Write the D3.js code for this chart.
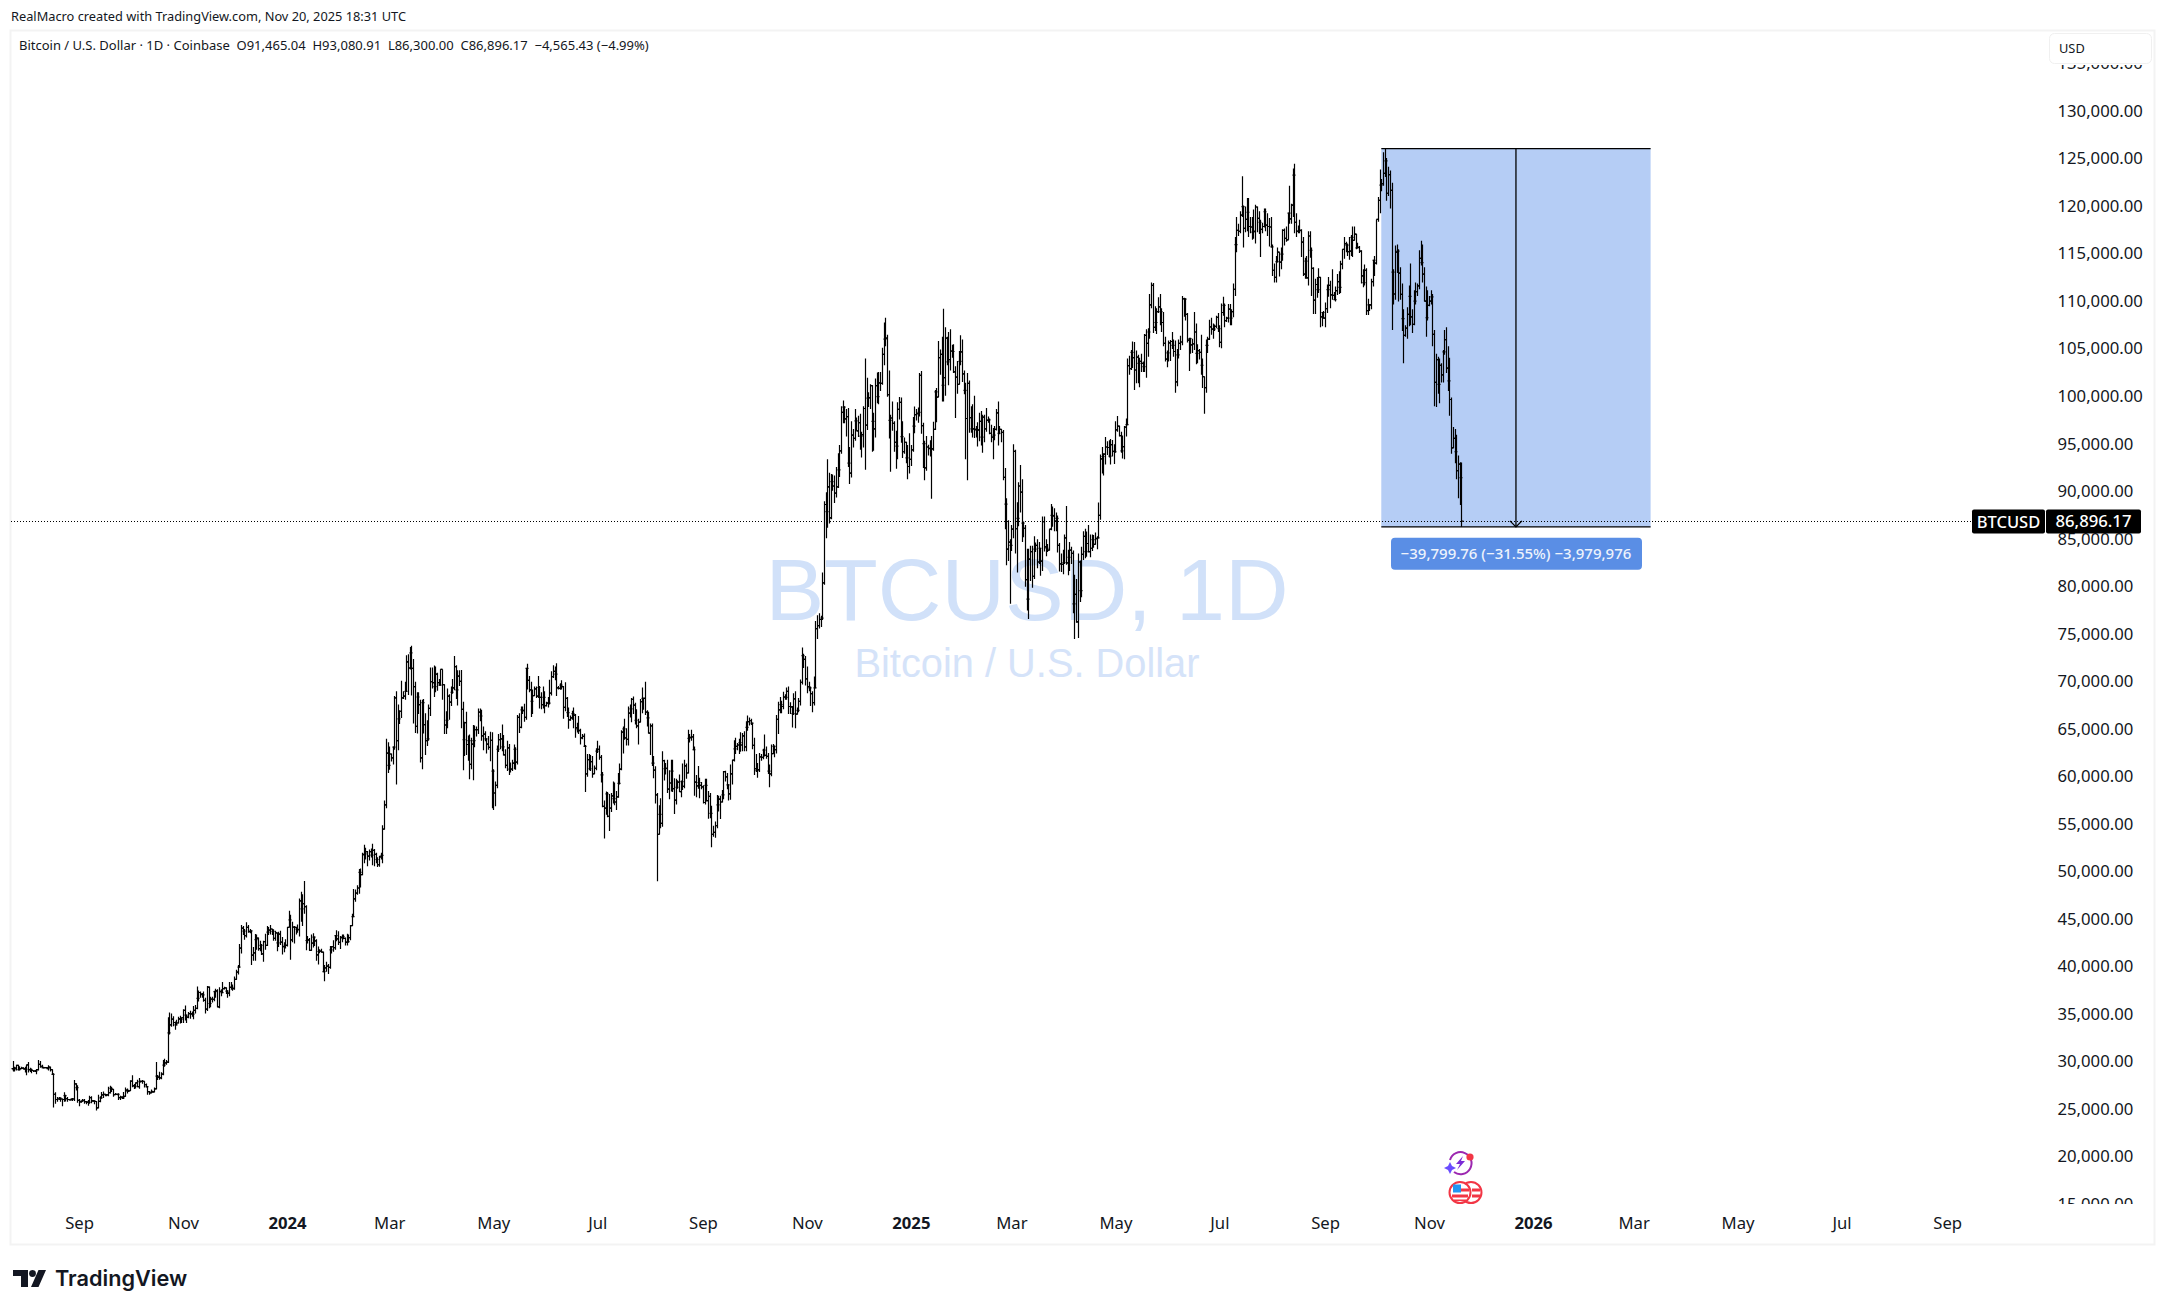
<!DOCTYPE html>
<html>
<head>
<meta charset="utf-8">
<title>BTCUSD</title>
<script src="https://cdn.jsdelivr.net/npm/d3@7"></script>
<style>
body {margin:0; background:#fff;}
text {font-family:"Noto Sans",sans-serif; fill:#131722;}
</style>
</head>
<body>
<svg id="chart" width="2166" height="1311"></svg>
<script>
// daily bars, in thousands of USD: [high, low, close]
// open of a bar is the close of the bar before it
var jul23 = [[30.1,29.0,29.2],[29.5,29.0,29.35],[29.7,29.1,29.65],[29.7,29.1,29.2],[29.55,29.1,29.3],[29.5,29.25,29.35],[29.45,29.2,29.27],[29.5,28.9,29.23]]
var aug23 = [[29.7,28.6,29.7],[30.0,28.9,29.2],[29.4,28.95,29.2],[29.3,28.8,29.1],[29.1,28.95,29.05],[29.15,28.95,29.05],[29.25,28.7,29.2],[30.2,29.1,29.75],[30.1,29.4,29.55],[29.7,29.35,29.4],[29.5,29.3,29.4],[29.45,29.35,29.4],[29.45,29.25,29.3],[29.65,29.1,29.45],[29.5,29.0,29.2],[29.2,28.7,28.7],[28.8,25.2,26.6],[26.8,25.6,26.05],[26.3,25.8,26.1],[26.3,26.0,26.2],[26.25,25.8,26.1],[26.15,25.35,26.05],[26.8,25.8,26.45],[26.55,25.85,26.15],[26.3,25.8,26.05],[26.1,25.95,26.0],[26.15,25.98,26.1],[26.2,25.9,26.1],[28.1,25.9,27.7],[27.75,27.0,27.3],[27.55,25.7,25.95]]
var sep23 = [[26.1,25.35,25.8],[25.95,25.7,25.87],[26.1,25.8,25.97],[26.1,25.6,25.82],[25.9,25.55,25.78],[26.0,25.4,25.75],[26.45,25.6,26.24],[26.4,25.65,25.9],[25.95,25.8,25.9],[25.95,25.55,25.84],[25.9,24.9,25.16],[26.55,25.13,25.85],[26.4,25.75,26.22],[26.85,26.13,26.53],[26.9,26.2,26.6],[26.65,26.4,26.57],[26.62,26.4,26.53],[27.4,26.38,26.76],[27.5,26.68,27.21],[27.4,26.85,27.13],[27.15,26.35,26.57],[26.74,26.52,26.58],[26.63,26.5,26.58],[26.72,26.0,26.25],[26.45,25.99,26.3],[26.4,26.1,26.22],[26.83,26.1,26.37],[27.3,26.33,27.03],[27.22,26.67,26.91],[27.08,26.88,26.97]]
var oct23 = [[28.07,26.95,27.98],[28.6,27.33,27.5],[27.68,27.15,27.43],[27.85,27.2,27.79],[28.13,27.35,27.41],[28.3,27.18,27.93],[28.05,27.85,27.96],[28.1,27.7,27.97],[27.98,27.3,27.6],[27.73,27.3,27.39],[27.48,26.55,26.87],[26.95,26.55,26.75],[27.1,26.7,26.86],[26.97,26.82,26.86],[27.3,26.82,27.16],[30.0,27.12,28.5],[28.62,28.1,28.4],[28.98,28.12,28.32],[28.92,28.17,28.71],[30.2,28.6,29.67],[30.35,29.5,29.9],[30.2,29.7,29.98],[34.7,29.9,33.07],[35.2,32.9,33.9],[35.1,33.7,34.5],[34.8,33.75,34.15],[34.25,33.4,33.9],[34.45,33.87,34.1],[34.75,34.05,34.53],[34.85,34.05,34.48],[34.7,34.1,34.65]]
var nov23 = [[35.55,34.1,35.42],[35.95,34.35,34.93],[34.95,34.1,34.72],[35.25,34.6,35.08],[35.38,34.55,35.05],[35.3,34.75,35.04],[35.9,34.5,35.43],[35.98,35.1,35.65],[37.95,35.55,36.69],[37.52,36.35,37.31],[37.4,36.75,37.13],[37.25,36.75,37.06],[37.4,36.33,36.49],[36.75,35.1,35.55],[37.98,35.37,37.88],[37.95,35.65,36.15],[36.85,35.75,36.6],[36.85,36.25,36.58],[37.5,36.4,37.39],[37.7,36.75,37.47],[37.65,35.75,35.8],[37.85,35.65,37.43],[37.65,36.9,37.3],[38.4,37.25,37.72],[37.9,37.62,37.8],[37.83,37.15,37.45],[37.55,36.75,37.25],[38.4,36.9,37.84],[38.42,37.6,37.85],[38.15,37.5,37.72]]
var dec23 = [[38.98,37.6,38.69],[39.7,38.65,39.46],[40.2,39.2,39.97],[42.4,39.97,41.98],[44.4,41.4,44.08],[44.3,43.35,43.77],[44.0,42.85,43.29],[44.7,43.1,44.17],[44.4,43.6,43.72],[44.0,43.55,43.79],[43.8,40.2,41.25],[42.1,40.65,41.48],[43.45,40.65,42.88],[43.4,41.8,43.02],[43.1,41.7,41.93],[42.75,41.65,42.27],[42.4,41.25,41.37],[42.75,40.55,42.65],[43.5,41.8,42.27],[44.3,42.2,43.66],[44.2,43.35,43.86],[44.4,43.4,43.99],[44.0,43.35,43.73],[43.95,42.75,43.0],[43.8,42.75,43.58],[43.6,41.65,42.52],[43.7,42.1,43.45],[43.8,42.3,42.6],[43.15,41.3,42.14],[42.6,41.55,42.28],[42.9,41.95,42.27]]
var jan24 = [[44.2,42.15,44.17],[45.9,44.2,44.95],[45.5,40.75,42.85],[44.75,42.6,44.18],[44.3,42.45,44.16],[44.2,43.4,43.97],[44.45,43.6,43.93],[47.2,43.2,46.95],[47.9,44.75,46.11],[47.65,44.3,46.65],[49.05,45.6,46.34],[46.5,41.75,42.78],[43.25,42.45,42.85],[43.05,41.7,41.73],[43.4,41.7,42.5],[43.55,42.05,43.14],[43.2,42.2,42.74],[42.9,40.65,41.26],[42.15,40.25,41.62],[41.85,41.45,41.66],[41.9,41.5,41.55],[41.6,39.45,39.5],[40.2,38.5,39.9],[40.55,39.5,40.08],[40.3,39.25,39.95],[42.2,39.8,41.8],[42.2,41.4,42.12],[42.8,41.6,42.03],[43.3,41.8,43.3],[43.85,42.7,42.95],[43.75,42.3,42.58]]
var feb24 = [[43.25,41.88,43.08],[43.4,42.6,43.2],[43.4,42.9,43.0],[43.1,42.25,42.58],[43.5,42.25,42.66],[43.4,42.55,43.08],[44.4,42.8,44.34],[45.6,44.3,45.3],[48.2,45.25,47.15],[48.15,46.85,47.77],[48.6,47.6,48.3],[50.3,47.7,49.95],[50.35,48.35,49.7],[52.0,49.65,51.82],[52.85,50.9,51.9],[52.55,51.3,52.13],[52.2,50.6,51.65],[52.35,51.2,52.12],[52.45,51.5,51.77],[52.95,50.7,52.27],[52.4,50.6,51.85],[52.0,50.9,51.3],[51.55,50.5,50.75],[51.7,50.55,51.57],[52.0,51.3,51.73],[54.9,50.9,54.5],[57.5,54.45,57.05],[64.0,56.7,62.5],[63.65,60.4,61.2]]
var mar24 = [[63.2,60.75,62.4],[62.45,61.6,62.0],[63.2,61.3,63.13],[68.5,62.85,68.3],[69.0,59.2,63.8],[67.6,62.8,66.1],[67.0,65.55,66.9],[70.1,66.2,68.3],[69.0,68.2,68.5],[70.0,68.1,69.0],[72.8,69.0,72.1],[72.9,68.6,71.45],[73.65,71.3,73.05],[73.8,68.55,71.4],[72.4,65.6,69.5],[70.0,64.6,65.3],[68.9,64.55,68.4],[68.9,66.6,67.6],[68.1,61.5,62.0],[68.1,60.8,67.8],[68.2,64.55,65.5],[66.7,62.3,63.8],[65.95,63.25,64.0],[67.6,63.8,67.2],[71.5,66.4,70.0],[71.5,69.3,69.9],[71.7,68.4,69.5],[71.6,68.9,70.8],[70.95,69.05,69.9],[70.3,69.6,69.65],[71.3,69.6,71.3]]
var apr24 = [[71.3,68.1,69.7],[69.7,64.5,65.45],[66.9,64.5,65.95],[69.3,65.1,68.5],[68.7,66.0,67.85],[69.5,67.45,68.9],[70.3,68.75,69.35],[72.7,69.1,71.6],[71.75,68.2,69.15],[71.2,67.5,70.6],[71.2,69.55,70.05],[71.25,65.1,67.1],[67.9,60.7,63.9],[65.8,62.2,65.7],[66.85,62.3,63.4],[64.35,61.7,63.8],[64.45,59.75,61.3],[64.1,60.8,63.45],[65.45,59.65,63.8],[65.4,63.1,64.95],[65.3,64.25,64.95],[67.2,64.5,66.8],[67.2,65.85,66.4],[67.05,63.8,64.3],[65.3,62.8,64.5],[64.8,63.75,64.0],[64.0,62.45,63.45],[64.3,62.85,63.1],[64.75,61.65,63.85],[64.7,56.7,60.6]]
var may24 = [[60.8,56.5,58.3],[59.5,56.9,59.1],[63.3,58.8,62.9],[64.5,62.6,63.9],[64.6,62.9,64.0],[65.5,62.7,63.15],[64.4,62.25,62.3],[62.9,60.9,61.2],[63.8,60.6,63.05],[63.45,60.2,60.8],[61.5,60.45,60.8],[61.8,60.6,61.45],[63.4,60.8,62.9],[63.1,60.75,61.55],[66.5,61.3,66.25],[66.7,64.6,65.2],[67.4,65.1,67.05],[67.4,66.6,66.95],[67.7,65.8,66.25],[71.4,66.0,71.4],[71.9,69.2,70.15],[70.6,68.9,69.15],[70.0,66.3,67.95],[69.2,66.6,68.55],[69.5,68.5,69.25],[69.5,68.3,68.5],[70.6,68.3,69.4],[69.55,67.2,68.35],[68.9,67.1,67.6],[69.5,67.2,68.35],[69.0,66.7,67.5]]
var jun24 = [[67.9,67.4,67.75],[68.4,67.3,67.75],[70.2,67.6,68.8],[71.1,68.55,70.55],[71.75,70.4,71.1],[71.6,70.15,70.8],[71.95,68.5,69.35],[69.55,69.2,69.3],[69.85,69.15,69.65],[70.15,69.2,69.5],[69.55,66.1,67.3],[69.95,66.9,68.25],[68.4,66.3,66.75],[67.3,65.05,66.0],[66.45,65.9,66.2],[66.95,66.0,66.65],[67.3,65.1,66.5],[66.6,64.1,65.15],[65.7,64.65,64.95],[66.4,64.5,64.85],[65.05,63.4,64.1],[64.5,63.95,64.25],[64.55,63.2,63.2],[63.35,58.4,60.3],[62.4,60.0,61.8],[62.4,60.7,60.85],[62.3,60.6,61.6],[62.2,59.9,60.3],[61.2,60.35,60.9],[63.0,60.7,62.7]]
var jul24 = [[63.8,62.5,62.9],[63.3,61.8,62.05],[62.3,59.4,60.2],[60.5,56.8,56.9],[57.5,53.5,56.7],[58.45,56.0,58.2],[58.4,55.75,55.85],[58.2,54.3,56.7],[58.3,56.3,58.0],[59.5,57.2,57.7],[59.4,57.0,57.35],[58.5,56.5,57.9],[60.4,57.8,59.3],[61.4,59.2,60.8],[64.9,60.7,64.7],[65.3,62.45,65.05],[66.1,63.9,64.1],[65.1,63.3,63.95],[67.4,63.3,66.7],[67.6,66.25,67.15],[68.3,65.75,68.15],[68.45,66.6,67.55],[67.8,65.5,65.95],[67.1,65.1,65.35],[66.1,63.4,65.75],[68.2,65.75,67.9],[69.4,66.7,68.25],[68.3,67.05,68.25],[70.0,66.5,66.8],[67.0,65.3,66.2],[66.85,64.55,64.6]]
var aug24 = [[65.6,62.3,65.35],[65.6,61.15,61.45],[62.2,59.85,60.7],[61.1,57.2,58.1],[58.3,49.0,53.95],[57.0,53.95,56.05],[57.75,54.6,55.1],[62.7,54.75,61.7],[61.8,59.6,60.85],[61.45,60.25,60.9],[61.8,58.3,58.7],[60.7,57.65,59.35],[61.8,58.45,60.6],[61.8,58.4,58.75],[59.85,56.1,57.55],[59.8,57.1,58.9],[59.65,58.75,59.45],[60.25,58.4,58.45],[59.6,57.85,59.5],[61.4,58.6,59.0],[61.8,58.8,61.15],[61.4,59.8,60.4],[64.95,60.35,64.05],[64.5,63.6,64.15],[64.95,63.8,64.2],[64.5,62.8,62.85],[63.2,58.0,59.45],[60.2,57.85,59.05],[61.15,58.75,59.4],[59.9,57.75,59.1],[59.45,58.7,58.95]]
var sep24 = [[59.1,57.2,57.3],[59.8,57.1,59.1],[59.8,57.4,57.5],[58.5,55.6,57.95],[58.3,55.65,56.15],[56.95,52.6,53.95],[54.85,53.7,54.15],[55.3,53.6,54.85],[58.1,54.6,57.05],[58.0,56.35,57.65],[58.0,55.55,57.35],[58.6,57.3,58.1],[60.6,57.65,60.55],[60.65,59.5,60.0],[60.4,58.7,59.15],[59.2,57.5,58.2],[61.3,57.6,60.3],[61.8,59.2,61.75],[63.85,61.6,62.95],[64.1,62.4,63.2],[63.55,62.8,63.35],[64.0,62.4,63.6],[64.7,62.65,63.35],[64.6,62.7,64.3],[64.8,62.7,63.15],[65.85,62.7,65.2],[66.45,64.85,65.8],[66.25,65.4,65.9],[66.1,65.45,65.65],[65.65,62.9,63.3]]
var oct24 = [[64.1,60.2,60.85],[62.4,60.5,60.65],[61.45,59.9,60.75],[62.5,60.5,62.1],[62.4,61.7,62.05],[62.95,61.85,62.8],[64.45,62.15,62.25],[63.2,61.9,62.15],[62.5,60.3,60.6],[61.3,58.9,60.3],[63.4,60.05,62.45],[63.45,62.4,63.2],[63.3,62.05,62.85],[66.5,62.45,66.05],[67.9,64.5,67.05],[68.4,66.7,67.6],[68.0,66.7,67.4],[68.95,67.1,68.4],[68.7,68.1,68.35],[69.4,68.1,69.0],[69.5,66.6,67.4],[67.85,66.6,67.35],[67.45,65.2,66.65],[68.8,66.5,68.2],[69.0,65.1,66.6],[67.3,66.55,67.0],[68.3,66.8,67.95],[70.25,67.5,69.95],[73.6,69.7,72.75],[72.95,71.45,72.35],[72.7,69.6,70.3]]
var nov24 = [[71.6,68.8,69.5],[70.0,69.0,69.35],[69.5,67.45,68.75],[69.0,66.8,67.8],[70.55,67.5,69.35],[76.4,69.35,75.6],[77.0,74.5,75.9],[77.2,75.6,76.55],[76.95,75.75,76.7],[81.5,76.5,80.4],[89.0,80.2,88.65],[89.95,85.1,87.9],[93.4,86.2,90.5],[92.0,86.65,87.25],[91.85,87.1,91.05],[91.8,90.1,90.6],[91.7,88.8,89.85],[92.6,89.4,90.5],[94.05,90.4,92.3],[94.9,91.55,94.3],[99.0,94.0,98.35],[99.6,97.2,98.9],[99.0,97.2,97.65],[98.7,95.8,97.9],[98.8,92.6,93.0],[94.7,90.8,91.95],[97.4,91.5,95.95],[96.6,94.65,95.6],[98.7,95.35,97.45],[97.8,96.4,96.4]]
var dec24 = [[98.0,95.75,97.25],[98.2,94.4,95.85],[96.3,93.6,96.0],[99.0,94.65,98.75],[104.0,92.3,97.0],[102.0,96.5,99.85],[100.45,98.9,99.9],[101.3,98.7,101.15],[101.2,94.2,97.4],[98.3,94.3,96.6],[101.9,95.7,101.15],[102.55,99.3,100.0],[102.6,99.2,101.45],[102.6,100.6,101.4],[105.15,101.25,104.45],[107.8,103.3,106.05],[108.3,105.3,106.15],[106.5,100.0,100.2],[102.75,95.6,97.5],[98.1,92.1,97.75],[99.5,96.4,97.2],[97.4,94.2,95.2],[96.4,92.4,94.8],[99.4,93.4,98.65],[99.95,97.6,99.4],[99.9,95.15,95.8],[97.4,93.55,94.2],[95.7,94.0,95.2],[95.25,93.0,93.55],[94.9,91.3,92.65],[96.15,91.9,93.4]]
var jan25 = [[94.9,92.7,94.4],[97.85,94.2,96.9],[98.95,96.15,98.1],[98.7,97.5,98.2],[98.85,97.25,98.35],[102.5,97.9,102.25],[102.7,96.1,96.95],[97.25,92.5,95.05],[95.35,91.2,92.5],[95.85,92.2,94.7],[94.95,93.8,94.55],[95.4,93.7,94.5],[95.85,89.25,94.5],[97.35,94.3,96.55],[100.7,96.5,100.5],[100.9,97.3,99.95],[105.85,99.95,104.1],[104.95,102.3,104.45],[106.3,99.5,101.2],[109.25,99.5,102.0],[107.3,100.1,106.15],[106.3,103.3,103.65],[106.8,101.2,103.9],[107.1,102.75,104.8],[105.45,104.1,104.75],[105.5,102.5,102.6],[103.2,97.75,102.05],[103.75,100.3,101.3],[104.8,101.3,103.7],[106.45,103.3,104.7],[106.0,101.55,102.4]]
var feb25 = [[102.75,100.25,100.65],[101.45,93.4,97.7],[102.5,91.2,101.4],[101.7,96.2,97.8],[99.0,96.2,96.6],[99.2,95.7,96.6],[100.1,95.65,96.55],[96.9,95.7,96.45],[97.3,94.75,96.5],[98.3,95.3,97.4],[98.5,94.85,95.75],[98.1,94.1,97.85],[98.1,95.2,96.6],[98.8,96.3,97.5],[97.9,97.25,97.55],[97.7,96.05,96.15],[97.05,95.2,95.75],[96.7,93.4,95.95],[96.9,95.4,96.55],[98.7,96.45,98.3],[99.5,94.85,96.15],[96.9,96.05,96.55],[96.6,95.2,96.25],[96.5,91.2,91.5],[92.5,86.05,88.7],[89.3,82.25,83.95],[87.0,82.7,84.7],[85.0,78.2,84.35]]
var mar25 = [[86.5,83.75,86.05],[95.0,85.1,94.25],[94.4,83.5,86.1],[88.9,81.5,87.2],[91.0,86.35,90.6],[92.8,87.8,89.95],[91.3,84.7,86.7],[86.85,85.2,86.15],[86.5,80.0,80.75],[84.0,77.5,78.7],[84.0,76.6,82.9],[84.3,80.6,83.7],[84.3,79.9,81.1],[85.3,80.8,83.95],[84.65,83.65,84.35],[85.0,81.95,82.6],[84.7,82.4,84.05],[84.05,81.15,82.7],[87.4,81.65,86.85],[87.4,83.7,84.2],[85.0,83.2,84.05],[84.5,83.65,83.85],[86.0,83.8,86.05],[88.7,85.95,87.5],[88.45,86.3,87.45],[88.25,85.85,86.9],[87.8,85.85,87.2],[87.5,83.6,84.35],[84.6,81.6,82.4],[83.5,81.55,82.35],[83.9,81.3,82.55]]
var apr25 = [[85.5,82.4,85.15],[88.5,82.3,82.5],[83.9,81.2,83.1],[84.7,81.65,83.85],[84.2,82.4,83.5],[83.8,77.2,78.2],[81.25,74.5,79.2],[80.8,76.2,76.3],[83.5,74.6,82.6],[82.75,78.4,79.6],[84.2,78.9,83.4],[85.85,82.8,85.3],[86.1,83.0,83.7],[85.8,83.15,84.55],[86.5,83.6,83.7],[85.5,83.1,84.05],[85.5,83.75,84.95],[85.45,84.1,84.45],[85.7,84.45,85.05],[85.3,83.95,85.15],[88.85,85.1,87.5],[93.9,87.05,93.45],[94.7,91.9,93.7],[94.05,91.7,93.95],[95.75,92.85,94.7],[95.3,93.85,94.65],[95.4,93.6,93.75],[95.55,92.85,94.95],[95.45,93.7,94.25],[95.0,92.9,94.2]]
var may25 = [[97.4,94.1,96.5],[97.95,96.3,96.9],[96.95,95.8,95.9],[96.3,94.1,94.3],[95.9,93.5,94.75],[96.9,93.4,96.8],[97.7,95.8,97.05],[104.0,97.0,103.25],[104.3,102.3,102.95],[104.9,102.8,104.65],[105.8,103.0,104.1],[105.75,100.7,102.8],[104.85,101.4,104.15],[104.4,101.4,103.5],[104.1,101.0,103.7],[104.5,102.6,103.5],[103.7,102.6,103.15],[106.6,102.6,106.45],[107.1,102.0,105.6],[107.2,104.2,106.8],[110.8,106.1,109.65],[112.0,109.3,111.7],[111.95,106.7,107.3],[109.5,106.9,107.8],[109.3,106.6,108.95],[110.45,108.8,109.45],[110.8,107.5,108.95],[109.3,106.8,107.8],[108.9,105.3,105.6],[106.3,103.7,103.95],[104.85,103.1,104.6]]
var jun25 = [[105.9,103.7,105.65],[105.95,103.75,105.8],[106.8,105.0,105.4],[106.0,104.2,104.75],[105.9,100.4,101.55],[105.0,101.1,104.4],[106.0,104.0,105.6],[106.4,104.9,105.75],[110.6,105.4,110.3],[110.4,108.4,110.25],[110.35,108.0,108.65],[108.8,105.7,105.95],[106.2,102.7,106.1],[106.2,104.5,105.45],[106.1,104.6,105.55],[108.9,104.9,106.8],[107.7,103.4,104.55],[105.5,103.5,104.85],[105.0,103.9,104.65],[106.5,102.3,103.3],[104.0,100.9,102.1],[102.1,98.2,100.95],[106.0,100.4,105.4],[106.3,104.6,106.05],[108.1,105.95,107.35],[108.3,106.5,107.1],[107.7,106.1,107.1],[107.6,106.9,107.4],[108.5,107.2,108.35],[108.8,106.8,107.15]]
var jul25 = [[107.5,105.2,105.7],[109.8,105.1,108.85],[110.5,108.5,109.6],[109.8,107.3,108.0],[108.4,107.85,108.25],[109.75,107.8,109.2],[109.75,107.5,108.25],[109.2,107.5,108.95],[111.9,108.35,111.3],[116.8,110.6,116.0],[118.9,115.2,117.5],[118.2,116.9,117.4],[119.5,117.2,119.1],[123.2,118.9,120.0],[120.1,115.7,117.7],[120.0,117.3,118.65],[120.9,117.4,119.4],[120.9,116.8,117.9],[118.9,117.2,117.85],[118.9,116.5,117.3],[119.7,116.6,117.4],[120.2,116.1,119.95],[120.0,117.3,118.75],[119.5,117.1,118.35],[118.6,114.7,117.6],[118.3,117.2,117.9],[119.8,117.8,119.45],[119.8,117.4,118.05],[119.3,116.9,117.9],[118.8,115.8,117.85],[118.9,115.7,115.75]]
var aug25 = [[116.0,112.7,113.3],[114.0,112.0,112.55],[114.8,112.0,114.2],[115.7,114.1,115.2],[115.1,112.65,114.15],[115.7,113.4,115.0],[117.6,114.3,117.5],[117.7,115.9,116.65],[117.9,116.3,116.5],[119.3,116.5,119.3],[122.2,118.2,118.7],[120.3,118.2,120.15],[124.0,118.9,123.3],[124.5,117.2,118.35],[119.3,116.8,117.4],[118.0,117.2,117.45],[118.6,117.2,117.5],[117.6,114.7,116.25],[116.8,112.7,112.9],[114.6,112.4,114.25],[114.8,112.4,112.5],[117.4,111.7,116.9],[117.4,114.6,115.4],[115.7,110.6,113.5],[113.6,108.7,110.15],[112.4,108.7,111.8],[112.6,110.4,111.25],[113.5,110.9,112.55],[112.6,107.3,108.4],[108.9,107.4,108.85],[109.0,108.2,108.25]]
var sep25 = [[109.9,107.3,109.25],[111.8,108.8,111.25],[112.6,110.5,111.7],[112.2,109.3,110.7],[113.4,110.2,110.65],[111.0,110.2,110.2],[111.6,110.0,111.15],[112.9,110.7,112.1],[113.2,110.8,111.5],[114.3,110.9,113.95],[115.5,113.4,115.5],[116.8,114.5,116.1],[116.3,115.2,115.95],[116.1,114.8,115.25],[116.8,114.4,115.3],[117.0,114.8,116.75],[117.9,114.7,116.45],[117.9,116.5,117.1],[117.1,115.5,115.65],[116.2,115.6,115.7],[115.85,115.1,115.3],[115.4,111.9,112.7],[113.4,111.5,112.0],[113.9,111.7,113.3],[113.5,108.6,109.05],[110.3,108.6,109.65],[109.7,109.0,109.65],[112.4,109.2,112.1],[114.4,111.6,114.35],[114.8,112.7,114.05]]
var oct25 = [[118.65,113.9,118.65],[121.0,118.4,120.65],[123.9,119.3,122.25],[122.9,121.6,122.4],[125.7,122.2,123.5],[126.1,123.1,124.8],[125.1,120.6,121.4],[124.2,121.1,123.35],[123.8,119.8,121.7],[122.5,107.0,113.1],[113.4,109.7,110.8],[115.9,110.2,115.2],[116.0,113.0,115.3],[115.5,110.0,113.0],[113.6,110.2,110.75],[111.9,106.9,108.2],[109.2,103.5,106.45],[107.5,106.3,107.2],[109.4,106.1,108.65],[111.7,107.4,110.55],[114.0,107.5,108.4],[109.2,106.7,107.6],[111.2,107.5,110.05],[112.0,109.7,111.05],[111.9,110.6,111.65],[115.4,111.3,114.55],[116.4,113.8,114.1],[116.0,112.0,112.9],[113.6,110.0,110.05],[111.6,106.3,108.3],[111.2,108.0,109.6]]
var nov25 = [[110.6,109.5,110.05],[111.2,109.7,110.5],[110.8,105.3,106.55],[107.0,99.0,101.5],[104.5,98.9,103.9],[104.2,100.3,101.3],[104.0,99.3,103.3],[103.5,101.5,102.3],[104.9,101.5,104.7],[107.0,104.4,106.0],[107.3,102.5,103.0],[105.3,100.6,101.65],[104.1,98.0,99.7],[99.9,94.0,94.6],[96.8,94.6,95.6],[96.6,93.0,94.2],[96.0,91.3,92.2],[93.8,89.3,92.9],[93.1,88.6,91.46504],[93.08091,86.3,86.89617]]

var monthRows = [jul23,aug23,sep23,oct23,nov23,dec23,jan24,feb24,mar24,apr24,may24,jun24,jul24,aug24,sep24,oct24,nov24,dec24,jan25,feb25,mar25,apr25,may25,jun25,jul25,aug25,sep25,oct25,nov25]
var monthStarts = ["2023-07-24","2023-08-01","2023-09-01","2023-10-01","2023-11-01","2023-12-01","2024-01-01","2024-02-01","2024-03-01","2024-04-01","2024-05-01","2024-06-01","2024-07-01","2024-08-01","2024-09-01","2024-10-01","2024-11-01","2024-12-01","2025-01-01","2025-02-01","2025-03-01","2025-04-01","2025-05-01","2025-06-01","2025-07-01","2025-08-01","2025-09-01","2025-10-01","2025-11-01"]

var priceTicks = [135000,130000,125000,120000,115000,110000,105000,100000,95000,90000,85000,80000,75000,70000,65000,60000,55000,50000,45000,40000,35000,30000,25000,20000,15000]
var timeTicks = ["2023-09-01","2023-11-01","2024-01-01","2024-03-01","2024-05-01","2024-07-01","2024-09-01","2024-11-01","2025-01-01","2025-03-01","2025-05-01","2025-07-01","2025-09-01","2025-11-01","2026-01-01","2026-03-01","2026-05-01","2026-07-01","2026-09-01"]
var timeLabels = ["Sep","Nov","2024","Mar","May","Jul","Sep","Nov","2025","Mar","May","Jul","Sep","Nov","2026","Mar","May","Jul","Sep"]

var lastClose = 86896.17
var measureTop = 126099.76
var measureBottom = 86300
var measureDates = ["2025-10-04","2025-12-22","2026-03-11"]

var parseDay = d3.utcParse("%Y-%m-%d")

var makebars = function ()
{
    var bars = []
    var prevclose = 29.3
    monthRows.forEach(function (rows, m)
    {
        var start = parseDay(monthStarts[m])
        rows.forEach(function (row, i)
        {
            var bar = {}
            bar.date = d3.utcDay.offset(start, i)
            bar.open = prevclose * 1000
            bar.high = Math.max(row[0], row[2], prevclose) * 1000
            bar.low = Math.min(row[1], row[2], prevclose) * 1000
            bar.close = row[2] * 1000
            prevclose = row[2]
            bars.push(bar)
        })
    })
    return bars
}

var bars = makebars()

var xscale = d3.scaleUtc()
    .domain([parseDay("2024-01-01"), parseDay("2026-01-01")])
    .range([287, 1533])

var yscale = d3.scaleLinear()
    .domain([130000, 20000])
    .range([111.5, 1157])

var svg = d3.select("#chart")

svg.append("text").attr("x", 11).attr("y", 21).attr("font-size", 12.8).text("RealMacro created with TradingView.com, Nov 20, 2025 18:31 UTC")

// frame
svg.append("rect")
    .attr("x", 10.5).attr("y", 30.5).attr("width", 2144).attr("height", 1214)
    .attr("fill", "#fff").attr("stroke", "#f3f3f3").attr("stroke-width", 2)

svg.append("clipPath").attr("id", "plot")
    .append("rect").attr("x", 11).attr("y", 31).attr("width", 1961).attr("height", 1174)
svg.append("clipPath").attr("id", "scale")
    .append("rect").attr("x", 1972).attr("y", 65).attr("width", 180).attr("height", 1139)

// watermark
var wm = svg.append("g")
wm.append("text").attr("x", 1027).attr("y", 620).attr("text-anchor", "middle")
    .attr("font-size", 88).style("fill", "#d1e1f9").style("font-family", "'Liberation Sans',Arial,sans-serif").text("BTCUSD, 1D")
wm.append("text").attr("x", 1027).attr("y", 677).attr("text-anchor", "middle")
    .attr("font-size", 39.8).style("fill", "#d5e3f9").style("font-family", "'Liberation Sans',Arial,sans-serif").text("Bitcoin / U.S. Dollar")

// price range tool
var mx0 = xscale(parseDay(measureDates[0]))
var mx1 = xscale(parseDay(measureDates[1]))
var mx2 = xscale(parseDay(measureDates[2]))
var my0 = yscale(measureTop)
var my1 = yscale(measureBottom)
svg.append("rect").attr("x", mx0).attr("y", my0).attr("width", mx2 - mx0).attr("height", my1 - my0).attr("fill", "#b5cdf5")

// last price line
var py = Math.round(yscale(lastClose)) + 0.5
svg.append("line")
    .attr("x1", 11).attr("x2", 1972)
    .attr("y1", py).attr("y2", py)
    .attr("stroke", "#000").attr("stroke-width", 1).attr("stroke-dasharray", "1 2")

var tool = svg.append("g").attr("stroke", "#000").attr("stroke-width", 1.3).attr("fill", "none")
tool.append("line").attr("x1", mx0).attr("x2", mx2).attr("y1", my0).attr("y2", my0)
tool.append("line").attr("x1", mx0).attr("x2", mx2).attr("y1", my1).attr("y2", my1)
tool.append("line").attr("x1", mx1).attr("x2", mx1).attr("y1", my0).attr("y2", my1)
tool.append("path").attr("d", "M" + (mx1 - 6) + "," + (my1 - 6) + "L" + mx1 + "," + my1 + "L" + (mx1 + 6) + "," + (my1 - 6))

// ohlc bars
svg.append("g").attr("clip-path", "url(#plot)")
    .selectAll("path")
    .data(bars)
    .enter()
    .append("path")
    .attr("fill", "none")
    .attr("stroke", "#000")
    .attr("stroke-width", 1.2)
    .attr("d", function (b)
    {
        var x = Math.round(xscale(b.date)) + 0.5
        return "M" + x + "," + yscale(b.high) + "V" + yscale(b.low)
            + "M" + (x - 2) + "," + yscale(b.open) + "H" + x
            + "M" + x + "," + yscale(b.close) + "H" + (x + 2)
    })

// measure label
svg.append("rect")
    .attr("x", 1391).attr("y", my1 + 11).attr("width", 251).attr("height", 32).attr("rx", 4)
    .attr("fill", "#5a8ee5")
svg.append("text")
    .attr("x", (mx0 + mx2) / 2).attr("y", my1 + 32).attr("text-anchor", "middle")
    .attr("font-size", 15).style("fill", "#eef3fc").style("font-weight", 500)
    .text("\u221239,799.76 (\u221231.55%) \u22123,979,976")

// axes
var yaxis = d3.axisRight(yscale)
    .tickValues(priceTicks)
    .tickSize(0)
    .tickPadding(0)
    .tickFormat(d3.format(",.2f"))
var yg = svg.append("g").attr("clip-path", "url(#scale)").append("g")
    .attr("transform", "translate(2057.5,-0.5)").call(yaxis)
yg.select(".domain").remove()
yg.selectAll("text").attr("font-size", 16.7).attr("font-family", null).style("fill", "#131722")

var xaxis = d3.axisBottom(xscale)
    .tickValues(timeTicks.map(parseDay))
    .tickSize(0)
    .tickPadding(0)
    .tickFormat(function (d, i) { return timeLabels[i] })
var xg = svg.append("g").attr("transform", "translate(0,1217)").call(xaxis)
xg.select(".domain").remove()
xg.selectAll("text").attr("font-size", 16.7).attr("font-family", null).style("fill", "#131722")
    .style("font-weight", function (d, i) { return /^\d+$/.test(timeLabels[i]) ? 700 : 400 })

// usd box
svg.append("rect").attr("x", 2049.5).attr("y", 33.5).attr("width", 102).attr("height", 30).attr("rx", 5)
    .attr("fill", "#fff").attr("stroke", "#f0f0f0")
svg.append("text").attr("x", 2059).attr("y", 53).attr("font-size", 12.8).text("USD")

// legend
svg.append("text").attr("x", 19).attr("y", 50).attr("font-size", 13).attr("xml:space", "preserve")
    .text("Bitcoin / U.S. Dollar \u00b7 1D \u00b7 Coinbase  O91,465.04  H93,080.91  L86,300.00  C86,896.17  \u22124,565.43 (\u22124.99%)")

// last price label
svg.append("rect").attr("x", 1972).attr("y", py - 12).attr("width", 73).attr("height", 24).attr("rx", 2).attr("fill", "#000")
svg.append("rect").attr("x", 2046).attr("y", py - 12).attr("width", 95).attr("height", 24).attr("rx", 2).attr("fill", "#000")
svg.append("text").attr("x", 2008.5).attr("y", py + 6).attr("text-anchor", "middle").attr("font-size", 16.5).style("font-weight", 500).style("fill", "#fff").text("BTCUSD")
svg.append("text").attr("x", 2093.5).attr("y", py + 5).attr("text-anchor", "middle").attr("font-size", 16.7).style("font-weight", 500).style("fill", "#fff").text("86,896.17")

// event icons
var spark = svg.append("g").attr("transform", "translate(1460,1163)")
spark.append("path").attr("d", "M-6,9A11,11 0 1 0 -10,-3").attr("fill", "none").attr("stroke", "#9c27b0").attr("stroke-width", 2)
spark.append("path").attr("d", "M3,-7L-4,1H0L-3,7L5,-2H1Z").attr("fill", "#7b2bd6")
spark.append("path").attr("d", "M-10,-1L-8,3L-4,5L-8,7L-10,11L-12,7L-16,5L-12,3Z").attr("fill", "#6a4cff")
spark.append("circle").attr("cx", 10).attr("cy", -6).attr("r", 3.6).attr("fill", "#f23645")

var flag = svg.append("g").attr("transform", "translate(1460,1192.5)")
flag.append("circle").attr("r", 10.5).attr("cx", 11).attr("fill", "#fff").attr("stroke", "#f23645").attr("stroke-width", 2)
flag.append("rect").attr("x", 12).attr("y", -4).attr("width", 8).attr("height", 3).attr("fill", "#f23645")
flag.append("rect").attr("x", 12).attr("y", 2).attr("width", 8).attr("height", 3).attr("fill", "#f23645")
flag.append("circle").attr("r", 10.5).attr("cx", 0).attr("fill", "#fff").attr("stroke", "#f23645").attr("stroke-width", 2)
flag.append("rect").attr("x", -1).attr("y", -4).attr("width", 10).attr("height", 3).attr("fill", "#f23645")
flag.append("rect").attr("x", -8).attr("y", 2).attr("width", 16).attr("height", 3).attr("fill", "#f23645")
flag.append("rect").attr("x", -6).attr("y", 7).attr("width", 12).attr("height", 1.5).attr("fill", "#f23645")
flag.append("rect").attr("x", -7).attr("y", -8).attr("width", 8).attr("height", 8).attr("fill", "#2196f3")

// logo
svg.append("path").attr("fill", "#131722")
    .attr("d", "M13,1270H28V1287H21V1276H13ZM46,1270L38.5,1287H31L38.5,1270Z")
svg.append("circle").attr("cx", 32.5).attr("cy", 1273.5).attr("r", 3.4).attr("fill", "#131722")
svg.append("text").attr("x", 55).attr("y", 1286).attr("font-size", 21.7).style("font-family", "Inter,sans-serif").style("font-weight", 600).text("TradingView")
</script>
</body>
</html>
